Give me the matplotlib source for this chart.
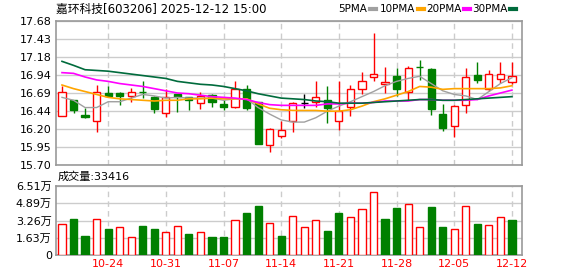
import matplotlib
matplotlib.use("Agg")
import matplotlib.pyplot as plt
import numpy as np

plt.rcParams['font.family'] = ['DejaVu Sans', 'Noto Sans CJK SC']

# trading days 2025-10-20 .. 2025-12-12
dates = ["10-20", "10-21", "10-22", "10-23", "10-24",
         "10-27", "10-28", "10-29", "10-30", "10-31",
         "11-03", "11-04", "11-05", "11-06", "11-07",
         "11-10", "11-11", "11-12", "11-13", "11-14",
         "11-17", "11-18", "11-19", "11-20", "11-21",
         "11-24", "11-25", "11-26", "11-27", "11-28",
         "12-01", "12-02", "12-03", "12-04", "12-05",
         "12-08", "12-09", "12-10", "12-11", "12-12"]

opens = [16.37, 16.59, 16.39, 16.31, 16.69, 16.69, 16.65, 16.71, 16.63, 16.41,
         16.68, 16.63, 16.55, 16.66, 16.54, 16.50, 16.74, 16.56, 15.97, 16.10,
         16.30, 16.55, 16.57, 16.60, 16.30, 16.50, 16.75, 16.91, 16.82, 16.92,
         16.71, 17.05, 17.02, 16.40, 16.24, 16.53, 16.94, 16.74, 16.88, 16.84]
closes = [16.70, 16.46, 16.36, 16.70, 16.65, 16.65, 16.70, 16.70, 16.47, 16.63,
          16.64, 16.60, 16.65, 16.56, 16.50, 16.75, 16.49, 15.99, 16.20, 16.18,
          16.55, 16.55, 16.63, 16.49, 16.44, 16.74, 16.85, 16.95, 16.84, 16.75,
          17.04, 17.045, 16.47, 16.21, 16.51, 16.91, 16.87, 16.95, 16.95, 16.92]
highs = [16.79, 16.60, 16.49, 16.80, 16.78, 16.71, 16.76, 16.86, 16.65, 16.74,
         16.68, 16.63, 16.70, 16.67, 16.59, 16.86, 16.80, 16.56, 16.21, 16.31,
         16.56, 16.68, 16.86, 16.79, 16.85, 16.80, 16.98, 17.52, 17.05, 17.04,
         17.06, 17.15, 17.04, 16.54, 16.53, 17.04, 17.11, 17.01, 17.11, 17.11]
lows = [16.37, 16.41, 16.35, 16.15, 16.65, 16.52, 16.56, 16.62, 16.41, 16.36,
        16.43, 16.45, 16.47, 16.50, 16.45, 16.48, 16.45, 15.99, 15.88, 16.07,
        16.15, 16.49, 16.50, 16.28, 16.18, 16.38, 16.68, 16.85, 16.69, 16.65,
        16.59, 16.87, 16.39, 16.17, 16.08, 16.41, 16.83, 16.72, 16.83, 16.81]

ma5 = [16.63, 16.59, 16.49, 16.49, 16.57, 16.57, 16.62, 16.67, 16.65, 16.62,
       16.63, 16.62, 16.62, 16.62, 16.59, 16.61, 16.61, 16.49, 16.40, 16.32,
       16.29, 16.29, 16.35, 16.44, 16.51, 16.57, 16.64, 16.71, 16.79, 16.85,
       16.89, 16.92, 16.82, 16.72, 16.67, 16.65, 16.60, 16.71, 16.82, 16.90]
ma10 = [16.80, 16.75, 16.71, 16.67, 16.63, 16.61, 16.60, 16.59, 16.58, 16.59,
        16.59, 16.61, 16.61, 16.62, 16.61, 16.61, 16.61, 16.54, 16.48, 16.46,
        16.45, 16.45, 16.45, 16.44, 16.44, 16.46, 16.51, 16.57, 16.61, 16.66,
        16.71, 16.78, 16.77, 16.74, 16.75, 16.75, 16.75, 16.75, 16.76, 16.79]
ma20 = [16.97, 16.96, 16.91, 16.87, 16.85, 16.82, 16.80, 16.78, 16.75, 16.72,
        16.69, 16.68, 16.66, 16.64, 16.63, 16.62, 16.60, 16.56, 16.53, 16.52,
        16.52, 16.52, 16.52, 16.54, 16.54, 16.55, 16.55, 16.56, 16.58, 16.58,
        16.58, 16.60, 16.60, 16.59, 16.59, 16.59, 16.60, 16.65, 16.69, 16.73]
ma30 = [17.125, 17.07, 17.01, 17.00, 16.99, 16.97, 16.95, 16.93, 16.91, 16.89,
        16.85, 16.83, 16.81, 16.80, 16.78, 16.75, 16.72, 16.68, 16.65, 16.62,
        16.61, 16.60, 16.58, 16.57, 16.55, 16.55, 16.55, 16.56, 16.57, 16.58,
        16.59, 16.60, 16.60, 16.59, 16.59, 16.60, 16.61, 16.62, 16.63, 16.64]

volumes = [29400, 34100, 17700, 34100, 24200, 26700, 17400, 27000, 24200, 22000,
           27600, 19500, 21400, 16700, 16700, 33200, 40000, 46500, 30400, 17700,
           36900, 26700, 33200, 22300, 40000, 36000, 43400, 59200, 33500, 44600,
           48100, 26700, 45600, 26000, 24800, 46200, 28800, 28500, 36000, 33416]
# volume colour follows close vs previous close
vol_up = [1, 0, 0, 1, 0, 1, 1, 0, 0, 1,
          1, 0, 1, 0, 0, 1, 0, 0, 1, 0,
          1, 1, 1, 0, 0, 1, 1, 1, 0, 0,
          1, 1, 0, 0, 1, 1, 0, 1, 1, 0]

price_labels = ["15.70", "15.95", "16.20", "16.44", "16.69", "16.94", "17.18", "17.43", "17.68"]
vol_labels = ["0", "1.63万", "3.26万", "4.89万", "6.51万"]

RED = "#ff0000"
GREEN = "#008000"
BORDER = "#999999"
GRID = "#cccccc"

W, H = 578, 276
fig = plt.figure(figsize=(W / 100, H / 100), dpi=100)


def box(l, t, r, b):
    return [l / W, 1 - b / H, (r - l) / W, (b - t) / H]


ax = fig.add_axes(box(56, 21, 522, 165))
axv = fig.add_axes(box(56, 186, 522, 255))

x = np.arange(len(closes))
tick_idx = list(range(4, len(x), 5))

for a in (ax, axv):
    a.set_xlim(-0.52, len(x) - 0.13)
    for s in a.spines.values():
        s.set_color(BORDER)
        s.set_linewidth(1.2)
    a.set_xticks(tick_idx)
    a.tick_params(length=0, labelsize=8, pad=3)
    a.grid(axis='y', color=GRID, lw=1, zorder=0)
    a.grid(axis='x', color=GRID, lw=1, ls=(0, (4, 3)), zorder=0)
    a.set_axisbelow(True)

# price panel
ax.set_ylim(15.70, 17.68)
ax.set_yticks(np.linspace(15.70, 17.68, len(price_labels)))
ax.set_yticklabels(price_labels)
ax.set_xticklabels([])

for i in x:
    o, c, h, l = opens[i], closes[i], highs[i], lows[i]
    if c > o:
        col, face = RED, "white"
    elif c < o:
        col, face = GREEN, GREEN
    else:
        col, face = "black", "black"
    ax.vlines(i, l, h, color=col, lw=1, zorder=3)
    if c == o:
        ax.hlines(c, i - 0.31, i + 0.31, color=col, lw=1, zorder=4)
    else:
        ax.bar(i, abs(c - o), bottom=min(o, c), width=0.62, facecolor=face,
               edgecolor=col, lw=1, zorder=4)

ax.plot(x, ma5, color="#a0a0a0", lw=1, zorder=5)
ax.plot(x, ma10, color="#ffa500", lw=1.2, zorder=5)
ax.plot(x, ma20, color="#ff00ff", lw=1.2, zorder=5)
ax.plot(x, ma30, color="#006b3c", lw=1.2, zorder=5)

# volume panel
axv.set_ylim(0, 65100)
axv.set_yticks(np.linspace(0, 65100, len(vol_labels)))
axv.set_yticklabels(vol_labels)
axv.set_xticklabels([dates[i] for i in tick_idx], color=RED, fontsize=8)
for i in x:
    if vol_up[i]:
        axv.bar(i, volumes[i], width=0.62, facecolor="white", edgecolor=RED, lw=1, zorder=3)
    else:
        axv.bar(i, volumes[i], width=0.62, facecolor=GREEN, edgecolor=GREEN, lw=1, zorder=3)

# header texts
fig.text(56 / W, 1 - 9 / H, "嘉环科技[603206] 2025-12-12 15:00", fontsize=8.5,
         va="center", ha="left", family=['DejaVu Sans', 'Noto Sans CJK SC'])
legend = [("5PMA", "#a0a0a0", 338), ("10PMA", "#ffa500", 380),
          ("20PMA", "#ff00ff", 426), ("30PMA", "#006b3c", 472)]
for name, col, px in legend:
    t = fig.text(px / W, 1 - 9 / H, name, fontsize=7.5, va="center", ha="left")
fig.canvas.draw()
r = fig.canvas.get_renderer()
for (name, col, px), t in zip(legend, [tt for tt in fig.texts[1:]]):
    bb = t.get_window_extent(renderer=r)
    x0 = bb.x1 + 3
    fig.add_artist(plt.Line2D([x0 / W, (x0 + 6) / W], [1 - 9 / H, 1 - 9 / H],
                              color=col, lw=3, transform=fig.transFigure))

fig.text(58 / W, 1 - 177 / H, "成交量:33416", fontsize=8, va="center", ha="left")

fig.savefig("out.png", dpi=100)
